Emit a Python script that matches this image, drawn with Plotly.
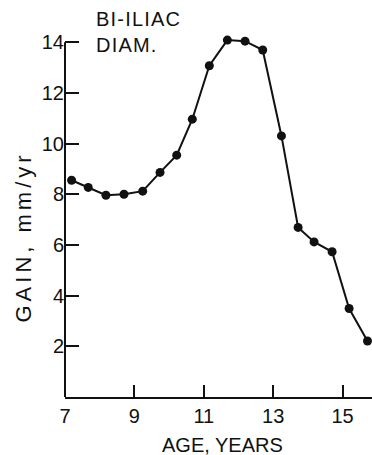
import plotly.graph_objects as go

# Data
age_years = [7.19, 7.67, 8.18, 8.70, 9.24, 9.74, 10.22, 10.67, 11.16, 11.68,
             12.19, 12.70, 13.24, 13.72, 14.18, 14.70, 15.19, 15.72]
gain_mm_per_yr = [8.55, 8.27, 7.96, 8.00, 8.12, 8.86, 9.54, 10.96, 13.07, 14.08,
                  14.04, 13.69, 10.30, 6.69, 6.12, 5.73, 3.49, 2.21]
x_ticks = [7, 9, 11, 13, 15]
y_ticks = [2, 4, 6, 8, 10, 12, 14]
series_label = "BI-ILIAC<br>DIAM."
x_title = "AGE, YEARS"
y_title = "GAIN, mm/yr"

FONT = "Liberation Sans, Arial, sans-serif"
INK = "#111111"

fig = go.Figure()
fig.add_trace(go.Scatter(
    x=age_years, y=gain_mm_per_yr, mode="lines+markers",
    line=dict(color=INK, width=2),
    marker=dict(color=INK, size=9),
    cliponaxis=False, showlegend=False, hoverinfo="skip",
))

# y-axis line drawn only up to the top tick (as in the reference)
fig.add_shape(type="line", xref="paper", yref="y", x0=0, x1=0,
              y0=0, y1=max(y_ticks), line=dict(color=INK, width=2))

fig.update_layout(
    width=372, height=455,
    margin=dict(l=65, r=0, t=32, b=58),
    paper_bgcolor="white", plot_bgcolor="white",
    font=dict(family=FONT, size=20, color=INK),
    xaxis=dict(
        range=[7, 15.85], tickvals=x_ticks, ticks="inside", ticklen=12,
        tickwidth=2, tickcolor=INK, showline=True, linewidth=2, linecolor=INK,
        showgrid=False, zeroline=False, fixedrange=True,
    ),
    yaxis=dict(
        range=[0, 14.4], tickvals=y_ticks, ticks="inside", ticklen=14,
        tickwidth=2, tickcolor=INK, showline=False,
        showgrid=False, zeroline=False, fixedrange=True,
    ),
    annotations=[
        dict(text=series_label, xref="paper", yref="paper", x=0, y=1,
             xanchor="left", yanchor="top", xshift=29, yshift=26,
             showarrow=False, align="left", font=dict(size=20)),
        dict(text=x_title, xref="paper", yref="paper", x=0.5, y=0,
             xanchor="center", yanchor="middle", xshift=4, yshift=-48,
             showarrow=False, font=dict(size=20)),
        dict(text=y_title, xref="paper", yref="paper", x=0, y=0.437,
             xanchor="center", yanchor="middle", xshift=-42, textangle=-90,
             showarrow=False, font=dict(size=22)),
    ],
)

post_js = """
document.body.style.margin = '0';
document.body.style.overflow = 'hidden';
document.querySelectorAll('.annotation-text').forEach(function (t) {
  var s = t.textContent;
  if (s.indexOf('GAIN') === 0) { t.style.letterSpacing = '4px'; }
  if (s.indexOf('BI-ILIAC') === 0) { t.style.letterSpacing = '1.2px'; }
});
"""

fig.write_html("out.html", config={"displayModeBar": False}, post_script=post_js)
